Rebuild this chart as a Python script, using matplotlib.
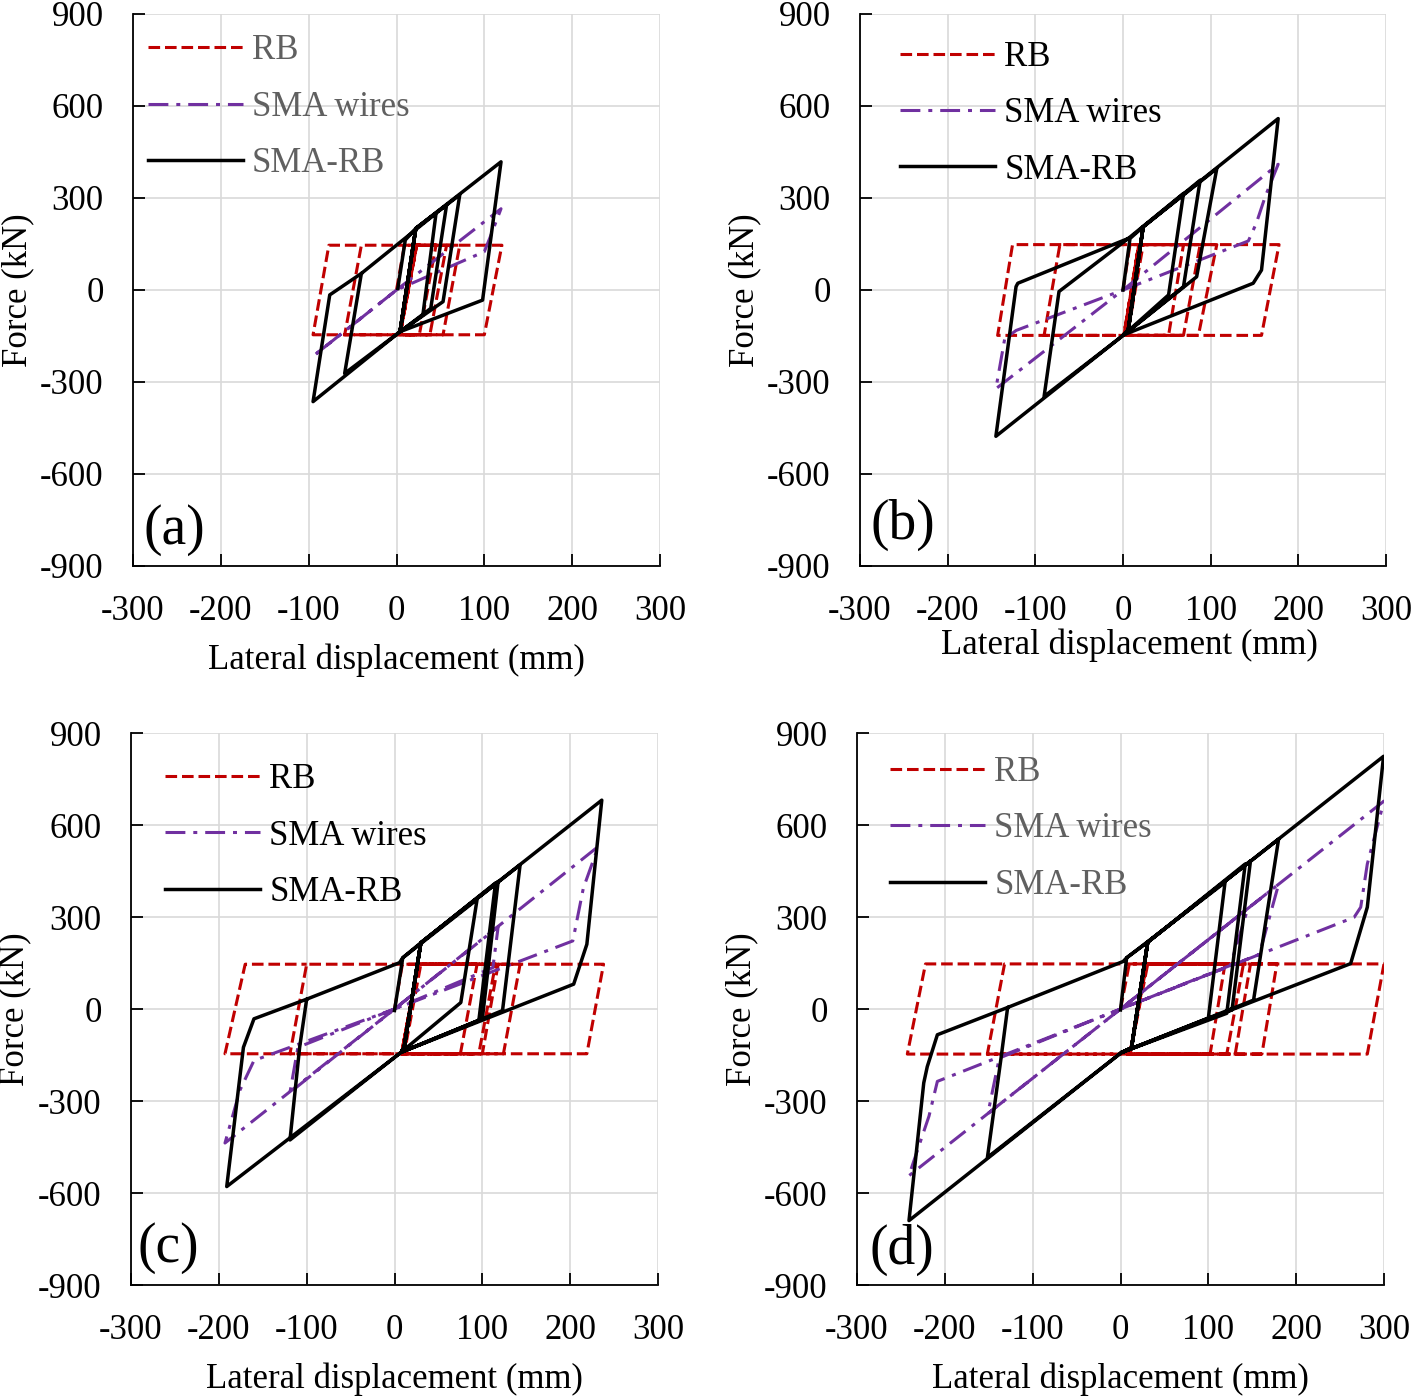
import matplotlib
matplotlib.use("Agg")
import matplotlib.pyplot as plt

plt.rcParams['font.family'] = ['Liberation Serif', 'DejaVu Serif']
plt.rcParams['axes.unicode_minus'] = False

# ---------------- data (displacement mm, force kN) ----------------
series_names = ["RB", "SMA wires", "SMA-RB"]
panel_tags = ["(a)", "(b)", "(c)", "(d)"]
x_ticks = [-300, -200, -100, 0, 100, 200, 300]
y_ticks = [-900, -600, -300, 0, 300, 600, 900]

# panel (a)
rb_a_x = [0, 9, 22, 3, -59, -40, 45, 26, 4, 23, 57, 38, 4, 23, 72, 53, 4, 23, 120, 100, -95, -77, -40]
rb_a_y = [0, 146, 146, -146, -146, 146, 146, -146, -146, 146, 146, -146, -146, 146, 146, -146, -146, 146, 146, -146, -146, 146, 146]
sma_a_x = [0, 119, 107, 100, 0, -95, 0]
sma_a_y = [0, 265, 175, 125, 0, -216, 0]
smarb_a_x = [1.5, 10, 22, 4, -59, -40, 45, 30, 4, 22, 57, 39, 4, 22, 72, 53, 4, 22, 119, 98, 4, -95, -76, -40]
smarb_a_y = [5, 163, 201, -136, -272, 54, 250, -82, -136, 201, 277, -60, -136, 201, 310, -38, -136, 201, 418, -33, -136, -364, -16, 54]

# panel (b)
rb_b_x = [0, 8, 23, 5, -90, -72, 69, 52, 1, 18, 88, 69, 1, 18, 107, 86, 1, 18, 178, 158, -143, -126, 6]
rb_b_y = [0, 148, 148, -148, -148, 148, 148, -148, -148, 148, 148, -148, -148, 148, 148, -148, -148, 148, 148, -148, -148, 148, 148]
sma_b_x = [0, 177, 162, 152, 143, 0, -145, -135, -122, 0]
sma_b_y = [0, 410, 303, 217, 160, 0, -322, -160, -132, 0]
smarb_b_x = [0, 8, 23, 6, 1, -90, -73, 6, 69, 52, 1, 6, 23, 88, 69, 1, 6, 23, 107, 84, 1, 6, 23, 177, 158, 148.5, 1, -145, -122, -120, 6]
smarb_b_y = [0, 168, 206, -130, -146, -347, -5, 168, 315, -16, -146, -130, 206, 358, 11, -146, -130, 206, 396, 43, -146, -130, 206, 559, 65, 22, -146, -477, 11, 22, 168]

# panel (c)
rb_c_x = [0, 9, 30, 11, -119, -100, 94, 75, 8, 27, 115, 96, 8, 27, 118, 100, 8, 27, 143, 124, 8, 27, 238, 219, -193, -170, -100]
rb_c_y = [0, 146, 146, -146, -146, 146, 146, -146, -146, 146, 146, -146, -146, 146, 146, -146, -146, 146, 146, -146, -146, 146, 146, -146, -146, 146, 146]
sma_c_x = [0, 232, 215, 203, 0, 118, 112, 0, -193, -176, -160, 0, -119, -110, 0]
sma_c_y = [0, 530, 394, 222, 0, 268, 135, 0, -437, -265, -168, 0, -272, -125, 0]
smarb_c_x = [0, 9.4, 30, 11, 7.6, -119, -108, -100, 5.7, 9.4, 94, 75.5, 7.6, 11, 30, 115, 96, 7.6, 11, 30,
             118, 100, 7.6, 11, 30, 143, 123, 7.6, 11, 30, 236, 219, 204, 7.6, -191, -172, -160, -100]
smarb_c_y = [-5, 167, 216, -125, -141, -427, -125, 32, 151, 167, 357, 21, -141, -125, 216, 411, -38, -141, -125, 216,
             416, -32, -141, -125, 216, 470, -5, -141, -125, 216, 681, 211, 81, -141, -579, -125, -32, 32]

# panel (d)
rb_d_x = [0, 10, 31, 11, -151.6, -132, 119, 102, 10.6, 29.7, 140, 121, 10.6, 29.7, 148, 130.6, 10.6, 29.7, 178, 161, 10.6, 29.7, 300, 281, -242.7, -222, -132]
rb_d_y = [0, 147, 147, -147, -147, 147, 147, -147, -147, 147, 147, -147, -147, 147, 147, -147, -147, 147, 147, -147, -147, 147, 147, -147, -147, 147, 147]
sma_d_x = [0, 300, 281, 273.5, 266, 0, 180, 158, 0, 145, 125, 0, -241, -218, -208.5, 0, -151, -138, 0]
sma_d_y = [0, 678, 473, 332, 299, 0, 407, 178, 0, 328, 142, 0, -544, -349, -236, 0, -341, -160, 0]
smarb_d_x = [0, 7, 31, 12.5, 1, -151.5, -136, -128.5, 3, 7, 119, 100, 1, 12.5, 31, 142, 121, 1, 12.5, 31,
             148, 127, 1, 12.5, 31, 180, 151.5, 1, 12.5, 31, 299.5, 281, 262, 1, -240.8, -224, -220, -208.5, -128.5]
smarb_d_y = [-3, 167, 218, -127, -142, -484, -160, 5, 155, 167, 413, -30, -142, -127, 218, 473, -14, -142, -127, 218,
             483, -3, -142, -127, 218, 554, 29, -142, -127, 218, 824, 332, 148, -142, -690, -241, -188, -84, 5]

panels = [
    (rb_a_x, rb_a_y, sma_a_x, sma_a_y, smarb_a_x, smarb_a_y),
    (rb_b_x, rb_b_y, sma_b_x, sma_b_y, smarb_b_x, smarb_b_y),
    (rb_c_x, rb_c_y, sma_c_x, sma_c_y, smarb_c_x, smarb_c_y),
    (rb_d_x, rb_d_y, sma_d_x, sma_d_y, smarb_d_x, smarb_d_y),
]

# ---------------- layout / style ----------------
W, H = 1416, 1398
fig = plt.figure(figsize=(W / 100, H / 100), dpi=100)

axes_px = [(133, 14, 527, 552), (860, 14, 526, 552), (131, 733, 527, 552), (857, 733, 527, 552)]
legend_anchor = [(0.028, 0.963), (0.076, 0.951), (0.0645, 0.945), (0.0626, 0.958)]
legend_color = ["#606060", "black", "black", "#606060"]
xlabel_pos = [(0.5, -0.170), (0.512, -0.144), (0.5, -0.171), (0.5, -0.171)]
ylabel_pos = [-0.218, -0.219, -0.22, -0.218]
tag_pos = [(0.078, 0.065), (0.082, 0.074), (0.070, 0.067), (0.085, 0.063)]

RED = "#C00000"
PURPLE = "#7030A0"
FS = 25

for i, (l, t, w, h) in enumerate(axes_px):
    ax = fig.add_axes([l / W, 1 - (t + h) / H, w / W, h / H])
    rbx, rby, smx, smy, srx, sry = panels[i]
    ax.plot(rbx, rby, color=RED, lw=2.2, dashes=(3.8, 1.6), label=series_names[0])
    ax.plot(smx, smy, color=PURPLE, lw=2.2, dashes=(6.5, 2.6, 1.3, 2.6), label=series_names[1])
    ax.plot(srx, sry, color="black", lw=2.5, label=series_names[2])

    ax.set_xlim(-300, 300)
    ax.set_ylim(-900, 900)
    ax.set_xticks(x_ticks)
    ax.set_yticks(y_ticks)
    ax.set_xticklabels([str(v) for v in x_ticks])
    ax.set_yticklabels([str(v) for v in y_ticks])
    ax.grid(True, color="#D9D9D9", lw=1.2)
    ax.set_axisbelow(True)
    for s in ["top", "right"]:
        ax.spines[s].set_visible(False)
    for s in ["left", "bottom"]:
        ax.spines[s].set_linewidth(1.3)
        ax.spines[s].set_color("black")
    ax.tick_params(axis="both", direction="in", length=8.5, width=1.3, labelsize=FS, colors="black")
    ax.tick_params(axis="y", pad=21)
    ax.tick_params(axis="x", pad=21)

    ax.set_xlabel("Lateral displacement (mm)", fontsize=FS)
    ax.set_ylabel("Force (kN)", fontsize=FS)
    ax.xaxis.set_label_coords(*xlabel_pos[i])
    ax.xaxis.label.set_verticalalignment("center")
    ax.yaxis.set_label_coords(ylabel_pos[i], 0.5)
    ax.yaxis.label.set_verticalalignment("center")

    ax.text(tag_pos[i][0], tag_pos[i][1], panel_tags[i], transform=ax.transAxes,
            fontsize=40, ha="center", va="center")

    leg = ax.legend(loc="upper left", bbox_to_anchor=legend_anchor[i], frameon=False,
                    fontsize=FS, handlelength=2.75, handletextpad=0.25, labelspacing=0.67,
                    borderpad=0, borderaxespad=0)
    for txt in leg.get_texts():
        txt.set_color(legend_color[i])

fig.savefig("out.png", dpi=100)
